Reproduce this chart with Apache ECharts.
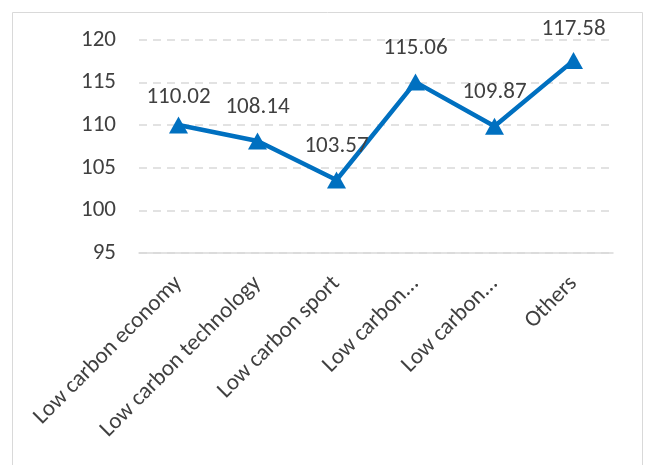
<!DOCTYPE html>
<html><head><meta charset="utf-8">
<script src="https://cdn.jsdelivr.net/npm/echarts@6/dist/echarts.min.js"></script>
<style>html,body{margin:0;padding:0;background:#fff}#c{width:648px;height:465px}</style>
</head><body><div id="c"></div>
<script>
const categories = ["Low carbon economy", "Low carbon technology", "Low carbon sport", "Low carbon...", "Low carbon...", "Others"];
const values = [110.02, 108.14, 103.57, 115.06, 109.87, 117.58];
const yTicks = [95, 100, 105, 110, 115, 120];
const labelShift = [6, 0, 0, 0, 0, 3];
const FONT = "Carlito, Lato, 'Open Sans', sans-serif";
const chart = echarts.init(document.getElementById('c'), null, {renderer: 'canvas'});
chart.setOption({
  animation: false,
  backgroundColor: '#fff',
  graphic: [{type: 'rect', shape: {x: 12.5, y: 12.5, width: 630, height: 470}, style: {fill: 'none', stroke: '#d9d9d9', lineWidth: 1}}],
  grid: {left: 139, right: 35, top: 40, bottom: 212},
  xAxis: {
    type: 'category', data: categories, boundaryGap: true,
    axisLine: {show: true, lineStyle: {color: '#d9d9d9', width: 1.5}},
    axisTick: {show: false},
    axisLabel: {rotate: 45, color: '#404040', fontSize: 23, fontFamily: FONT, margin: 27, interval: 0}
  },
  yAxis: {
    type: 'value', min: yTicks[0], max: yTicks[yTicks.length - 1], interval: 5,
    axisLine: {show: false}, axisTick: {show: false},
    axisLabel: {color: '#404040', fontSize: 23, fontFamily: FONT, margin: 23},
    splitLine: {show: true, lineStyle: {color: '#d9d9d9', type: [8, 6], width: 1.5}}
  },
  series: [{
    type: 'line',
    data: values.map((v, i) => ({value: v, label: {offset: [0, labelShift[i]]}})),
    lineStyle: {color: '#0070C0', width: 4.5},
    itemStyle: {color: '#0070C0'},
    symbol: 'triangle', symbolSize: [19, 17],
    label: {show: true, position: 'top', distance: 14, color: '#404040', fontSize: 23, fontFamily: FONT}
  }]
});
</script></body></html>
